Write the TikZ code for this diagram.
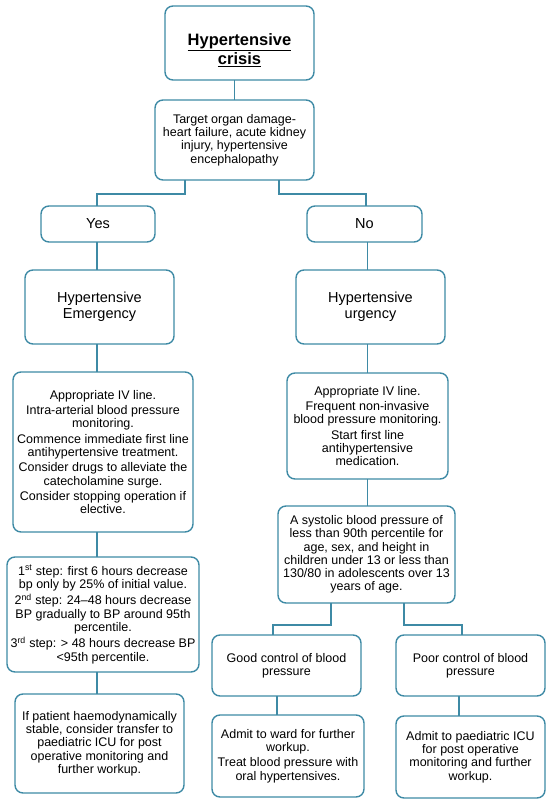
\documentclass[tikz,border=0pt]{standalone}
\usepackage{fontspec}
\setmainfont{Liberation Sans}
\usepackage{xcolor}
\usetikzlibrary{positioning}
\definecolor{flowteal}{HTML}{3E8AA5}

\begin{document}
\begin{tikzpicture}[
  x=1pt, y=1pt,
  box/.style={draw=flowteal, line width=1.4pt, rounded corners=8pt, align=center,
              inner sep=2pt, outer sep=0pt, font=\fontsize{12.5}{13.3}\selectfont},
  head/.style={box, font=\fontsize{14.5}{16}\selectfont},
  link/.style={draw=flowteal, line width=1.4pt}
]
\useasboundingbox (0,0) rectangle (550,-805);

\node[head, minimum width=149pt, minimum height=74pt, font=\fontsize{16.5}{19}\selectfont\bfseries]
  (crisis) at (239.5,-43) {\rule{0pt}{26pt}\underline{Hypertensive}\\\underline{crisis}};
\node[box, minimum width=159pt, minimum height=80pt, below=20pt of crisis, xshift=-5pt]
  (target) {Target organ damage-\\heart failure, acute kidney\\injury, hypertensive\\encephalopathy};

% left branch
\node[head, minimum width=114pt, minimum height=36pt, below=26pt of target, xshift=-136.5pt] (yes) {Yes};
\node[head, minimum width=149pt, minimum height=74pt, below=28pt of yes, xshift=1.5pt]
  (emer) {Hypertensive\\Emergency};
\node[box, minimum width=180pt, minimum height=160pt, below=28pt of emer, xshift=3.5pt]
  (ivleft) {Appropriate IV line.\\[2pt]Intra-arterial blood pressure\\monitoring.\\[2pt]Commence immediate first line\\antihypertensive treatment.\\[2pt]Consider drugs to alleviate the\\catecholamine surge.\\[2pt]Consider stopping operation if\\elective.};
\node[box, minimum width=192pt, minimum height=115pt, below=25pt of ivleft]
  (steps) {1\textsuperscript{st} step: first 6 hours decrease\\bp only by 25\% of initial value.\\[3pt]2\textsuperscript{nd} step: 24--48 hours decrease\\BP gradually to BP around 95th\\percentile.\\[3pt]3\textsuperscript{rd} step: > 48 hours decrease BP\\<95th percentile.};
\node[box, minimum width=169pt, minimum height=99pt, below=22pt of steps, xshift=-3.5pt]
  (transfer) {If patient haemodynamically\\stable, consider transfer to\\paediatric ICU for post\\operative monitoring and\\further workup.};

% right branch
\node[head, minimum width=115pt, minimum height=36pt, below=26pt of target, xshift=130pt] (no) {No};
\node[head, minimum width=149pt, minimum height=74pt, below=28pt of no, xshift=6pt]
  (urg) {Hypertensive\\urgency};
\node[box, minimum width=161pt, minimum height=106pt, below=29pt of urg, xshift=-3pt]
  (ivright) {Appropriate IV line.\\[2pt]Frequent non-invasive\\blood pressure monitoring.\\[2pt]Start first line\\antihypertensive\\medication.};
\node[box, minimum width=177pt, minimum height=97pt, below=27pt of ivright, xshift=-1pt]
  (systolic) {A systolic blood pressure of\\less than 90th percentile for\\age, sex, and height in\\children under 13 or less than\\130/80 in adolescents over 13\\years of age.};
\node[box, minimum width=149pt, minimum height=61pt, below=32pt of systolic, xshift=-80pt]
  (good) {Good control of blood\\pressure};
\node[box, minimum width=149pt, minimum height=61pt, below=32pt of systolic, xshift=104pt]
  (poor) {Poor control of blood\\pressure};
\node[box, minimum width=152pt, minimum height=82pt, below=19pt of good, xshift=1.5pt]
  (ward) {Admit to ward for further\\workup.\\[2pt]Treat blood pressure with\\oral hypertensives.};
\node[box, minimum width=149pt, minimum height=82pt, below=20pt of poor]
  (icu) {Admit to paediatric ICU\\for post operative\\monitoring and further\\workup.};

\draw[link] (target.north) -- (target.north |- crisis.south);
\draw[link] ([xshift=-49.5pt]target.south) -- ++(0,-14) -| ([xshift=-1pt]yes.north);
\draw[link] ([xshift=44.5pt]target.south) -- ++(0,-14) -| ([xshift=1.5pt]no.north);
\draw[link] ([xshift=-1pt]yes.south) -- ([xshift=-1pt]yes.south |- emer.north);
\draw[link] ([xshift=-1pt]yes.south |- emer.south) -- ([xshift=-1pt]yes.south |- ivleft.north);
\draw[link] ([xshift=-1pt]yes.south |- ivleft.south) -- ([xshift=-1pt]yes.south |- steps.north);
\draw[link] ([xshift=-1pt]yes.south |- steps.south) -- ([xshift=-1pt]yes.south |- transfer.north);
\draw[link] ([xshift=3pt]no.south) -- ([xshift=3pt]no.south |- urg.north);
\draw[link] ([xshift=3pt]no.south |- urg.south) -- ([xshift=3pt]no.south |- ivright.north);
\draw[link] ([xshift=3pt]no.south |- ivright.south) -- ([xshift=3pt]no.south |- systolic.north);
\draw[link] ([xshift=-35.5pt]systolic.south) -- ++(0,-22) -| ([xshift=-13.5pt]good.north);
\draw[link] ([xshift=37.5pt]systolic.south) -- ++(0,-22) -| ([xshift=-8.5pt]poor.north);
\draw[link] ([xshift=-9.5pt]good.south) -- ([xshift=-9.5pt]good.south |- ward.north);
\draw[link] ([xshift=-11.5pt]poor.south) -- ([xshift=-11.5pt]poor.south |- icu.north);
\end{tikzpicture}
\end{document}
